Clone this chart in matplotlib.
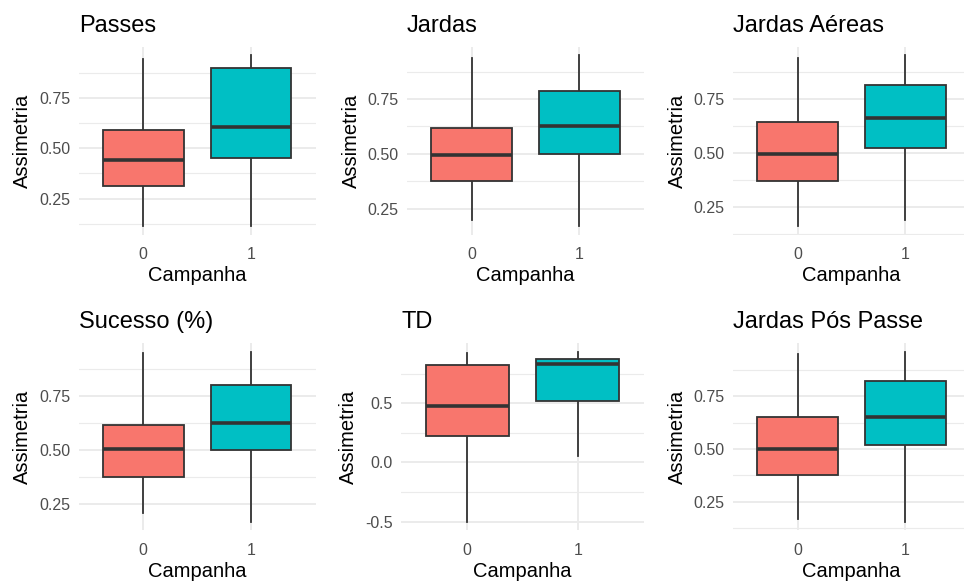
import numpy as np
import matplotlib
matplotlib.use("Agg")
import matplotlib.pyplot as plt
from matplotlib.ticker import FixedLocator, FormatStrFormatter

plt.rcParams['font.family'] = ['Liberation Sans', 'DejaVu Sans']

TITLES = ['Passes', 'Jardas', 'Jardas Aéreas',
          'Sucesso (%)', 'TD', 'Jardas Pós Passe']
GROUPS = ['0', '1']

# five-number summaries per panel: [group 0, group 1]
WHISLO = [[0.115, 0.115], [0.199, 0.171], [0.161, 0.189],
          [0.205, 0.166], [-0.500, 0.059], [0.167, 0.156]]
Q1 = [[0.313, 0.453], [0.378, 0.500], [0.372, 0.523],
      [0.376, 0.498], [0.227, 0.521], [0.377, 0.517]]
MEDIAN = [[0.440, 0.607], [0.497, 0.625], [0.494, 0.664],
          [0.503, 0.627], [0.476, 0.829], [0.498, 0.651]]
Q3 = [[0.590, 0.896], [0.616, 0.789], [0.644, 0.815],
      [0.616, 0.800], [0.821, 0.871], [0.653, 0.822]]
WHISHI = [[0.940, 0.962], [0.937, 0.951], [0.942, 0.955],
          [0.953, 0.958], [0.924, 0.936], [0.950, 0.961]]

FILLS = ['#F8766D', '#00BFC4']
EDGE = '#333333'
GRID = '#EBEBEB'

W, H = 964, 582
# panel boxes in pixels: left, top, right, bottom
PANELS = [(78.7, 46.5, 315.6, 234.5), (407, 46.5, 644, 234.5), (733, 46.5, 970, 234.5),
          (78.7, 343, 315.6, 530.3), (401, 343, 644, 530.3), (733, 343, 970, 530.3)]


def breaks(lo, hi, step):
    """Major breaks inside the data range, minor breaks half-way between
    them and half a step beyond each end."""
    major = np.arange(np.ceil(lo / step - 1e-9) * step, hi + 1e-9, step)
    major = np.round(major, 6) + 0.0
    minor = np.arange(major[0] - step / 2, major[-1] + step, step)
    return major, minor


fig = plt.figure(figsize=(W / 100, H / 100), dpi=100)

for i, title in enumerate(TITLES):
    l, t, r, b = PANELS[i]
    ax = fig.add_axes([l / W, 1 - b / H, (r - l) / W, (b - t) / H])

    stats = []
    for g in range(2):
        stats.append(dict(whislo=WHISLO[i][g], q1=Q1[i][g], med=MEDIAN[i][g],
                          q3=Q3[i][g], whishi=WHISHI[i][g], fliers=[]))
    bp = ax.bxp(stats, positions=[0, 1], widths=0.75, patch_artist=True,
                showcaps=False, showfliers=False,
                boxprops=dict(edgecolor=EDGE, linewidth=1.3),
                whiskerprops=dict(color=EDGE, linewidth=1.3),
                medianprops=dict(color=EDGE, linewidth=2.6, solid_capstyle='butt'))
    for patch, fc in zip(bp['boxes'], FILLS):
        patch.set_facecolor(fc)
    for ln in bp['whiskers']:
        ln.set_zorder(1.5)

    lo = min(WHISLO[i])
    hi = max(WHISHI[i])
    pad = 0.05 * (hi - lo)
    ax.set_ylim(lo - pad, hi + pad)
    ax.set_xlim(-0.6, 1.6)

    if title == 'TD':
        major, minor = breaks(lo, hi, 0.5)
        fmt = '%.1f'
    else:
        major, minor = breaks(lo, hi, 0.25)
        fmt = '%.2f'
    minor = minor[(minor > lo - pad) & (minor < hi + pad)]
    ax.yaxis.set_major_locator(FixedLocator(major))
    ax.yaxis.set_minor_locator(FixedLocator(minor))
    ax.yaxis.set_major_formatter(FormatStrFormatter(fmt))

    ax.set_xticks([0, 1])
    ax.set_xticklabels(GROUPS)
    ax.grid(True, which='major', color=GRID, linewidth=1.4)
    ax.grid(True, which='minor', axis='y', color=GRID, linewidth=0.8)
    ax.set_axisbelow(True)
    for s in ax.spines.values():
        s.set_visible(False)
    ax.tick_params(which='both', length=0)
    ax.tick_params(axis='y', labelsize=11.5, labelcolor='#4D4D4D', pad=6)
    ax.tick_params(axis='x', labelsize=11.5, labelcolor='#4D4D4D', pad=9)

    ax.set_xlabel('Campanha', fontsize=14.5, color='black', labelpad=3)
    ax.set_ylabel('Assimetria', fontsize=14.5, color='black', labelpad=5)
    ax.set_title(title, loc='left', fontsize=17, color='black', pad=10.5)

fig.savefig('out.png', dpi=100, facecolor='white')
